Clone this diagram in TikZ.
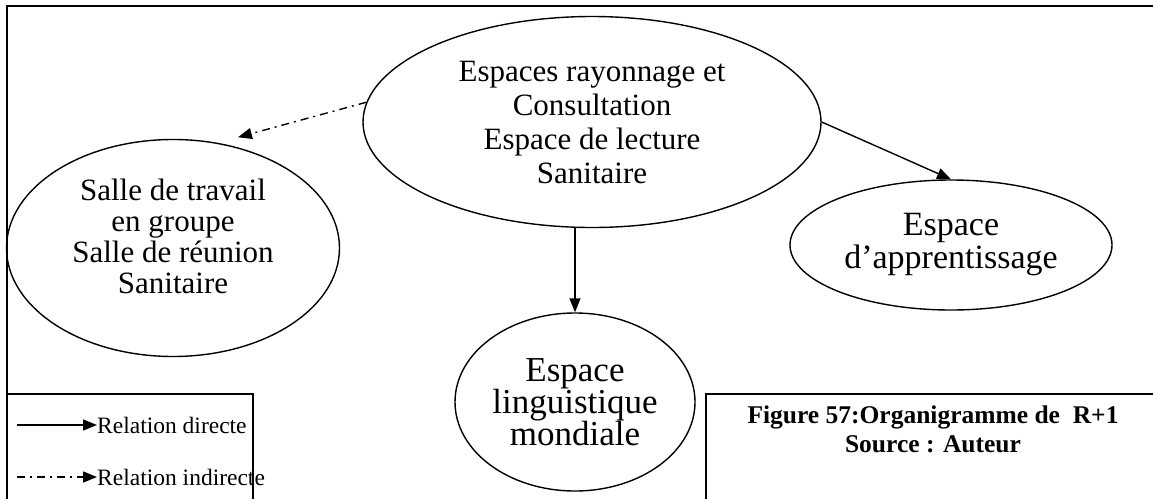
\documentclass[tikz,border=0pt]{standalone}
\usepackage{fontspec}
\setmainfont{Liberation Serif}
\usetikzlibrary{arrows.meta,shapes.geometric}
\tikzset{
  bubble/.style={draw, line width=1.4pt, ellipse, inner sep=0pt, align=center, font=\fontsize{31}{34}\selectfont},
  bigbubble/.style={bubble, font=\fontsize{34}{33}\selectfont},
  bubtext/.style={align=center, inner sep=0pt, font=\fontsize{31}{31}\selectfont},
  direct/.style={line width=1.4pt, -{Triangle[length=14pt,width=11pt]}},
  indirect/.style={direct, dash pattern=on 8pt off 5pt on 2pt off 5pt},
  legtext/.style={anchor=west, inner sep=0pt, font=\fontsize{23.5}{29}\selectfont},
  boxline/.style={line width=1.1pt},
  frameline/.style={line width=2.2pt},
}

\begin{document}
\begin{tikzpicture}[x=1pt,y=-1pt]
%%%%% START %%%%%
\useasboundingbox (0,0) rectangle (1153,498);
\clip (0,0) rectangle (1153,498);
\draw[frameline] (1160,6) -- (7,6) -- (7,505);

\node[bubble, minimum width=458pt, minimum height=211pt] (rayon) at (592,122) {Espaces rayonnage et\\Consultation\\Espace de lecture\\Sanitaire};
\node[bubble, minimum width=333pt, minimum height=217pt] (travail) at (173,248) {};
\node[bubtext] (travailtxt) at ([yshift=12pt]travail.center) {Salle de travail\\en groupe\\Salle de réunion\\Sanitaire};
\node[bigbubble, minimum width=322pt, minimum height=130pt] (appren) at (951,245) {Espace\\d’apprentissage};
\node[bigbubble, font=\fontsize{35}{32}\selectfont, minimum width=240pt, minimum height=178pt] (lingu) at (575,402) {Espace\\linguistique\\mondiale};

\draw[direct] (rayon.south -| lingu.north) -- (lingu.north);
\draw[direct] (rayon.east) -- (appren.north);
\draw[indirect, shorten >=21pt] (rayon.175) -- (travail.67);

% legende
\draw[boxline] (7,394) rectangle (253,520);
\node[legtext] (ldirect) at (97,425) {Relation directe};
\coordinate (ldfrom) at (17,425);
\draw[direct] (ldfrom) -- (ldirect.west);
\node[legtext] (lindirect) at (97,477) {Relation indirecte};
\coordinate (lifrom) at (17,477);
\draw[indirect] (lifrom) -- (lindirect.west);

% titre
\draw[boxline] (706,394) rectangle (1170,520);
\node[align=center, inner sep=0pt, font=\bfseries\fontsize{25.5}{29}\selectfont] (titre) at (933,429) {Figure 57:Organigramme de~~R+1\\Source : Auteur};
%%%%% END %%%%%
\end{tikzpicture}
\end{document}
